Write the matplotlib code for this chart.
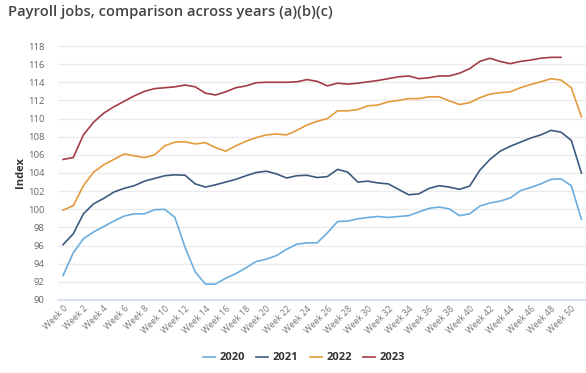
import numpy as np
from matplotlib import pyplot as plt

plt.rcParams['font.family'] = ['Open Sans', 'DejaVu Sans']

weeks = list(range(52))
week_labels = [f"Week {w}" for w in range(0, 51, 2)]

jobs_2020 = [92.7, 95.2, 96.75, 97.5, 98.1, 98.7, 99.25, 99.5, 99.5, 99.95,
             100.0, 99.1, 95.8, 93.1, 91.75, 91.75, 92.4, 92.9, 93.55, 94.25,
             94.5, 94.9, 95.6, 96.15, 96.3, 96.3, 97.4, 98.65, 98.7, 98.95,
             99.1, 99.2, 99.1, 99.2, 99.3, 99.7, 100.1, 100.25, 100.05, 99.3,
             99.5, 100.35, 100.7, 100.9, 101.25, 102.05, 102.4, 102.8, 103.3, 103.35,
             102.6, 98.9]
jobs_2021 = [96.1, 97.3, 99.5, 100.6, 101.2, 101.9, 102.3, 102.6, 103.1, 103.4,
             103.7, 103.8, 103.75, 102.8, 102.45, 102.7, 103.0, 103.3, 103.7, 104.05,
             104.2, 103.9, 103.45, 103.7, 103.75, 103.5, 103.6, 104.4, 104.1, 103.0,
             103.1, 102.9, 102.8, 102.2, 101.6, 101.7, 102.3, 102.6, 102.45, 102.2,
             102.55, 104.3, 105.5, 106.4, 106.95, 107.4, 107.85, 108.2, 108.7, 108.5,
             107.6, 104.0]
jobs_2022 = [99.9, 100.4, 102.6, 104.1, 104.9, 105.5, 106.1, 105.9, 105.7, 106.0,
             107.0, 107.4, 107.45, 107.2, 107.35, 106.8, 106.4, 107.0, 107.5, 107.9,
             108.2, 108.3, 108.2, 108.7, 109.3, 109.7, 110.0, 110.85, 110.85, 111.0,
             111.4, 111.5, 111.85, 112.0, 112.2, 112.2, 112.4, 112.4, 111.95, 111.55,
             111.75, 112.3, 112.7, 112.85, 112.95, 113.4, 113.75, 114.05, 114.4, 114.25,
             113.4, 110.2]
jobs_2023 = [105.5, 105.7, 108.2, 109.6, 110.6, 111.3, 111.9, 112.5, 113.0, 113.3,
             113.4, 113.5, 113.7, 113.5, 112.8, 112.6, 112.95, 113.4, 113.6, 113.95,
             114.0, 114.0, 114.0, 114.05, 114.3, 114.1, 113.6, 113.9, 113.8, 113.9,
             114.05, 114.2, 114.4, 114.6, 114.7, 114.4, 114.5, 114.7, 114.7, 115.0,
             115.5, 116.3, 116.65, 116.3, 116.05, 116.3, 116.45, 116.65, 116.75, 116.75]

series = [
    ("2020", jobs_2020, "#6aaddf"),
    ("2021", jobs_2021, "#3d5a7e"),
    ("2022", jobs_2022, "#e39a3b"),
    ("2023", jobs_2023, "#a33c46"),
]

fig = plt.figure(figsize=(5.86, 3.73), dpi=100)
ax = fig.add_axes([58 / 586, 1 - 300 / 373, 1 - 58 / 586, (300 - 46) / 373])

for name, vals, color in series:
    ax.plot(weeks[:len(vals)], vals, color=color, lw=1.2, label=name)

ax.set_ylim(90, 118)
ax.set_xlim(-0.5, 51.45)
ax.set_yticks(np.arange(90, 119, 2))
ax.set_xticks(range(0, 51, 2))
ax.set_xticklabels(week_labels, rotation=45, ha='right', rotation_mode='anchor',
                   fontsize=6.3, color='#777777')
ax.tick_params(axis='y', labelsize=6.8, labelcolor='#666666', length=0, pad=10)
ax.tick_params(axis='x', length=0, pad=3)
ax.grid(axis='y', color='#ebebeb', lw=1)
ax.set_axisbelow(True)
for s in ['left', 'right', 'top']:
    ax.spines[s].set_visible(False)
ax.spines['bottom'].set_color('#d3dde8')
ax.spines['bottom'].set_linewidth(1.2)

ax.set_ylabel("Index", fontsize=8, fontweight='bold', color='#333333', labelpad=1)

fig.text(8 / 586, 1 - 12 / 373, "Payroll jobs, comparison across years (a)(b)(c)",
         fontsize=10.6, fontweight='semibold', color='#444444', va='center', ha='left')

leg = fig.legend(loc='center', bbox_to_anchor=(304 / 586, 1 - 358 / 373), ncol=4,
                 frameon=False, handlelength=1.1, handletextpad=0.4, columnspacing=1.0,
                 prop={'size': 8, 'weight': 'bold'})
for t in leg.get_texts():
    t.set_color('#333333')

fig.savefig("out.png", dpi=100)
